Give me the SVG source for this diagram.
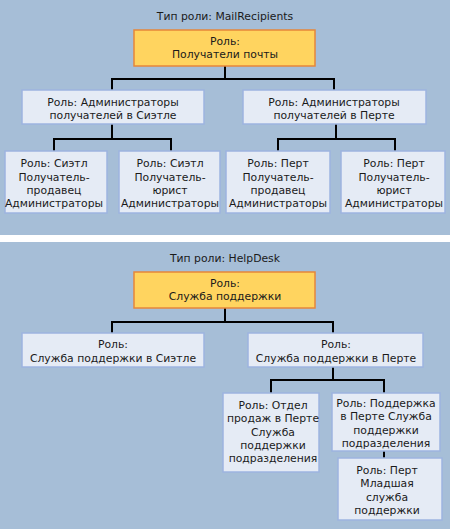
<svg xmlns="http://www.w3.org/2000/svg" width="450" height="531" viewBox="0 0 450 531">
<style>
.bg{fill:#A6BED7}
.root{fill:#FFD45F;stroke:#E6873A;stroke-width:1.5}
.box{fill:#E5EBF5;stroke:#9DB4E0;stroke-width:1.5}
text{font-family:"DejaVu Sans","Liberation Sans",sans-serif;font-size:10.8px;fill:#1a1a1a;text-anchor:middle}
.conn{fill:none;stroke:#000;stroke-width:2}
</style>
<rect x="0" y="0" width="450" height="531" fill="#FFFFFF"/>
<rect class="bg" x="0" y="0" width="450" height="235"/>
<rect class="bg" x="0" y="242" width="450" height="287"/>
<g id="title1"><text x="225" y="20">Тип роли: MailRecipients</text></g>
<g id="title2"><text x="225" y="262">Тип роли: HelpDesk</text></g>
<g id="connectors">
<path class="conn" d="M225 66V79M112 90V79H334V90"/>
<path class="conn" d="M112 124V139M54 151V139H171V151"/>
<path class="conn" d="M336 124V139M278 151V139H395V151"/>
<path class="conn" d="M225 308V322M112 333V322H333V333"/>
<path class="conn" d="M333 367V380M271 393V380H384V393"/>
<path class="conn" d="M384 451V458"/>
</g>
<g id="n1"><rect class="root" x="134" y="30" width="181" height="36"/><text x="225" y="45">Роль:</text><text x="225" y="58">Получатели почты</text></g>
<g id="n2"><rect class="box" x="22" y="90" width="182" height="34"/><text x="113" y="106">Роль: Администраторы</text><text x="113" y="119">получателей в Сиэтле</text></g>
<g id="n3"><rect class="box" x="243" y="90" width="183" height="34"/><text x="334" y="106">Роль: Администраторы</text><text x="334" y="119">получателей в Перте</text></g>
<g id="n4"><rect class="box" x="5" y="151" width="102" height="62"/><text x="54" y="167">Роль: Сиэтл</text><text x="54" y="181">Получатель-</text><text x="54" y="194">продавец</text><text x="54" y="207">Администраторы</text></g>
<g id="n5"><rect class="box" x="119" y="151" width="101" height="62"/><text x="170" y="167">Роль: Сиэтл</text><text x="170" y="181">Получатель-</text><text x="170" y="194">юрист</text><text x="170" y="207">Администраторы</text></g>
<g id="n6"><rect class="box" x="226" y="151" width="104" height="62"/><text x="278" y="167">Роль: Перт</text><text x="278" y="181">Получатель-</text><text x="278" y="194">продавец</text><text x="278" y="207">Администраторы</text></g>
<g id="n7"><rect class="box" x="341" y="151" width="104" height="62"/><text x="394" y="167">Роль: Перт</text><text x="394" y="181">Получатель-</text><text x="394" y="194">юрист</text><text x="394" y="207">Администраторы</text></g>
<g id="h1"><rect class="root" x="134" y="272" width="181" height="36"/><text x="225" y="287">Роль:</text><text x="225" y="300">Служба поддержки</text></g>
<g id="h2"><rect class="box" x="22" y="333" width="182" height="34"/><text x="113" y="348">Роль:</text><text x="113" y="362">Служба поддержки в Сиэтле</text></g>
<g id="h3"><rect class="box" x="248" y="333" width="175" height="34"/><text x="336" y="348">Роль:</text><text x="336" y="362">Служба поддержки в Перте</text></g>
<g id="h4"><rect class="box" x="223" y="393" width="96" height="79"/><text x="273" y="409">Роль: Отдел</text><text x="273" y="422">продаж в Перте</text><text x="273" y="436">Служба</text><text x="273" y="449">поддержки</text><text x="273" y="462">подразделения</text></g>
<g id="h5"><rect class="box" x="332" y="393" width="108" height="58"/><text x="386" y="407">Роль: Поддержка</text><text x="386" y="420">в Перте Служба</text><text x="386" y="434">поддержки</text><text x="386" y="447">подразделения</text></g>
<g id="h6"><rect class="box" x="338" y="458" width="104" height="62"/><text x="387" y="474">Роль: Перт</text><text x="387" y="487">Младшая</text><text x="387" y="501">служба</text><text x="387" y="514">поддержки</text></g>
</svg>
